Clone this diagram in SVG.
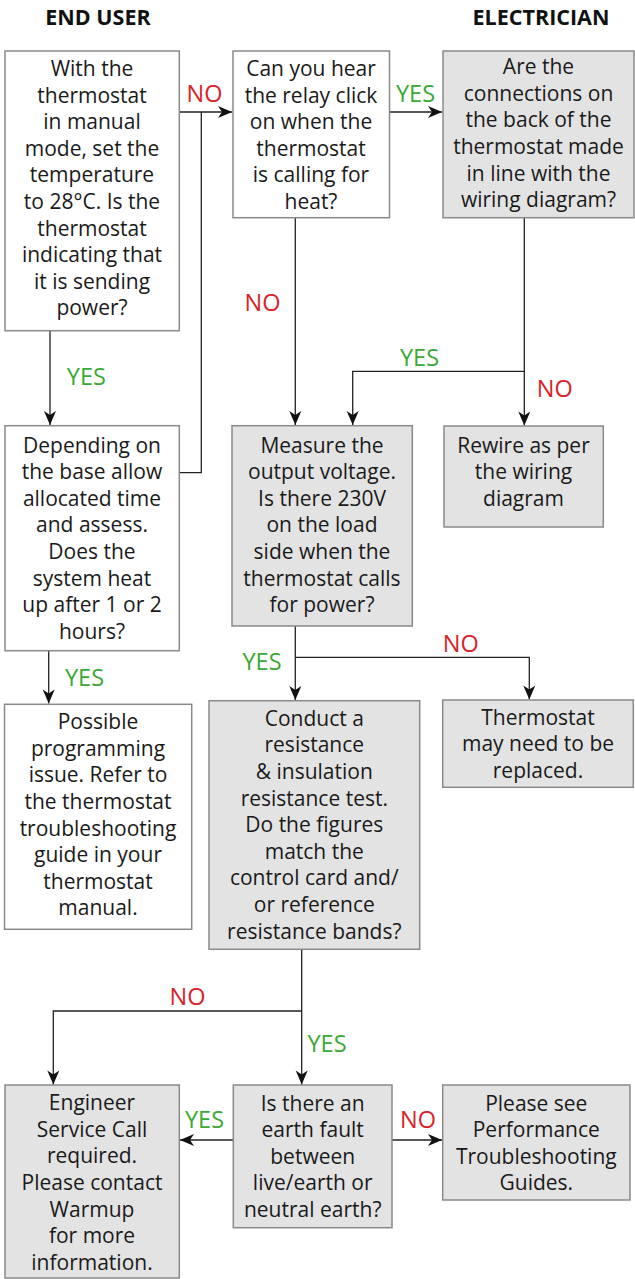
<svg xmlns="http://www.w3.org/2000/svg" width="635" height="1279" viewBox="0 0 635 1279">
<style>
.box{stroke:#8a8a8a;stroke-width:1.5}
.w{fill:#ffffff}
.g{fill:#e3e3e3}
.t{font-family:"Open Sans","Noto Sans","Liberation Sans",sans-serif;font-size:21px;fill:#1a1a1a;text-anchor:middle}
.h{font-family:"Open Sans","Noto Sans","Liberation Sans",sans-serif;font-size:21.5px;font-weight:bold;fill:#111;text-anchor:middle}
.no{font-family:"Open Sans","Noto Sans","Liberation Sans",sans-serif;font-size:23.5px;fill:#d8232a;text-anchor:middle}
.yes{font-family:"Open Sans","Noto Sans","Liberation Sans",sans-serif;font-size:23.5px;fill:#3aa935;text-anchor:middle}
.c{fill:none;stroke:#222;stroke-width:1.3}
</style>
<defs>
<marker id="ah" viewBox="-15 -7 16 14" refX="0" refY="0" markerWidth="16" markerHeight="14" markerUnits="userSpaceOnUse" orient="auto">
<path d="M0,0 L-14,-6 L-10,0 L-14,6 Z" fill="#111"/>
</marker>
</defs>
<rect width="635" height="1279" fill="#ffffff"/>

<g id="headers">
<text class="h" x="98" y="25">END USER</text>
<text class="h" x="541" y="25">ELECTRICIAN</text>
</g>

<g id="connectors">
<path class="c" d="M179,112 H232" marker-end="url(#ah)"/>
<path class="c" d="M179,472.7 H201.3 V112"/>
<path class="c" d="M389.5,112 H442" marker-end="url(#ah)"/>
<path class="c" d="M295.3,217.7 V425" marker-end="url(#ah)"/>
<path class="c" d="M50,330.7 V425" marker-end="url(#ah)"/>
<path class="c" d="M524.3,217.7 V425.5" marker-end="url(#ah)"/>
<path class="c" d="M524.3,371.3 H352.7 V425" marker-end="url(#ah)"/>
<path class="c" d="M295.3,626 V700" marker-end="url(#ah)"/>
<path class="c" d="M295.3,657.3 H529.3 V699.5" marker-end="url(#ah)"/>
<path class="c" d="M48.7,650.7 V703.5" marker-end="url(#ah)"/>
<path class="c" d="M301.7,949.3 V1084.5" marker-end="url(#ah)"/>
<path class="c" d="M301.7,1011 H53.3 V1084.5" marker-end="url(#ah)"/>
<path class="c" d="M233.3,1140 H180" marker-end="url(#ah)"/>
<path class="c" d="M392,1140 H442" marker-end="url(#ah)"/>
</g>

<g id="labels">
<text class="no" x="204.5" y="101.5">NO</text>
<text class="yes" x="415.5" y="101.5">YES</text>
<text class="no" x="262.5" y="311">NO</text>
<text class="yes" x="86.3" y="384.5">YES</text>
<text class="yes" x="419.5" y="365.5">YES</text>
<text class="no" x="554.7" y="396.5">NO</text>
<text class="no" x="460.7" y="651.5">NO</text>
<text class="yes" x="262" y="669.5">YES</text>
<text class="yes" x="84.5" y="685.5">YES</text>
<text class="no" x="187.5" y="1004.5">NO</text>
<text class="yes" x="327" y="1051.5">YES</text>
<text class="yes" x="204.5" y="1127.5">YES</text>
<text class="no" x="418" y="1127.5">NO</text>
</g>

<g id="n1">
<rect class="box w" x="5" y="51" width="174.3" height="279.7"/>
<text class="t" y="76"><tspan x="92">With the</tspan><tspan x="92" dy="26.6">thermostat</tspan><tspan x="92" dy="26.6">in manual</tspan><tspan x="92" dy="26.6">mode, set the</tspan><tspan x="92" dy="26.6">temperature</tspan><tspan x="92" dy="26.6">to 28°C. Is the</tspan><tspan x="92" dy="26.6">thermostat</tspan><tspan x="92" dy="26.6">indicating that</tspan><tspan x="92" dy="26.6">it is sending</tspan><tspan x="92" dy="26.6">power?</tspan></text>
</g>

<g id="n2">
<rect class="box w" x="233" y="51" width="156.5" height="166.7"/>
<text class="t" y="76"><tspan x="311">Can you hear</tspan><tspan x="311" dy="26.6">the relay click</tspan><tspan x="311" dy="26.6">on when the</tspan><tspan x="311" dy="26.6">thermostat</tspan><tspan x="311" dy="26.6">is calling for</tspan><tspan x="311" dy="26.6">heat?</tspan></text>
</g>

<g id="n3">
<rect class="box g" x="443" y="51" width="191" height="166.7"/>
<text class="t" y="74.2"><tspan x="538.5">Are the</tspan><tspan x="538.5" dy="26.6">connections on</tspan><tspan x="538.5" dy="26.6">the back of the</tspan><tspan x="538.5" dy="26.6">thermostat made</tspan><tspan x="538.5" dy="26.6">in line with the</tspan><tspan x="538.5" dy="26.6">wiring diagram?</tspan></text>
</g>

<g id="n4">
<rect class="box w" x="5" y="425.7" width="174.3" height="225"/>
<text class="t" y="452.5"><tspan x="92">Depending on</tspan><tspan x="92" dy="26.6">the base allow</tspan><tspan x="92" dy="26.6">allocated time</tspan><tspan x="92" dy="26.6">and assess.</tspan><tspan x="92" dy="26.6">Does the</tspan><tspan x="92" dy="26.6">system heat</tspan><tspan x="92" dy="26.6">up after 1 or 2</tspan><tspan x="92" dy="26.6">hours?</tspan></text>
</g>

<g id="n5">
<rect class="box g" x="232" y="425.7" width="180.3" height="200.3"/>
<text class="t" y="452.5"><tspan x="322">Measure the</tspan><tspan x="322" dy="26.6">output voltage.</tspan><tspan x="322" dy="26.6">Is there 230V</tspan><tspan x="322" dy="26.6">on the load</tspan><tspan x="322" dy="26.6">side when the</tspan><tspan x="322" dy="26.6">thermostat calls</tspan><tspan x="322" dy="26.6">for power?</tspan></text>
</g>

<g id="n6">
<rect class="box g" x="444" y="426" width="159.3" height="101"/>
<text class="t" y="452.5"><tspan x="523.5">Rewire as per</tspan><tspan x="523.5" dy="26.6">the wiring</tspan><tspan x="523.5" dy="26.6">diagram</tspan></text>
</g>

<g id="n7">
<rect class="box w" x="4.5" y="704.3" width="187.2" height="225"/>
<text class="t" y="729.2"><tspan x="98">Possible</tspan><tspan x="98" dy="26.6">programming</tspan><tspan x="98" dy="26.6">issue. Refer to</tspan><tspan x="98" dy="26.6">the thermostat</tspan><tspan x="98" dy="26.6">troubleshooting</tspan><tspan x="98" dy="26.6">guide in your</tspan><tspan x="98" dy="26.6">thermostat</tspan><tspan x="98" dy="26.6">manual.</tspan></text>
</g>

<g id="n8">
<rect class="box g" x="209" y="700.7" width="210.7" height="248.6"/>
<text class="t" y="725.8"><tspan x="314.3">Conduct a</tspan><tspan x="314.3" dy="26.6">resistance</tspan><tspan x="314.3" dy="26.6">&amp; insulation</tspan><tspan x="314.3" dy="26.6">resistance test.</tspan><tspan x="314.3" dy="26.6">Do the figures</tspan><tspan x="314.3" dy="26.6">match the</tspan><tspan x="314.3" dy="26.6">control card and/</tspan><tspan x="314.3" dy="26.6">or reference</tspan><tspan x="314.3" dy="26.6">resistance bands?</tspan></text>
</g>

<g id="n9">
<rect class="box g" x="442.7" y="700" width="190.6" height="87.3"/>
<text class="t" y="724.8"><tspan x="538">Thermostat</tspan><tspan x="538" dy="26.6">may need to be</tspan><tspan x="538" dy="26.6">replaced.</tspan></text>
</g>

<g id="n10">
<rect class="box g" x="5" y="1085" width="174.3" height="193"/>
<text class="t" y="1110.2"><tspan x="92">Engineer</tspan><tspan x="92" dy="26.6">Service Call</tspan><tspan x="92" dy="26.6">required.</tspan><tspan x="92" dy="26.6">Please contact</tspan><tspan x="92" dy="26.6">Warmup</tspan><tspan x="92" dy="26.6">for more</tspan><tspan x="92" dy="26.6">information.</tspan></text>
</g>

<g id="n11">
<rect class="box g" x="233.3" y="1085" width="158.7" height="142.7"/>
<text class="t" y="1110.5"><tspan x="312.7">Is there an</tspan><tspan x="312.7" dy="26.6">earth fault</tspan><tspan x="312.7" dy="26.6">between</tspan><tspan x="312.7" dy="26.6">live/earth or</tspan><tspan x="312.7" dy="26.6">neutral earth?</tspan></text>
</g>

<g id="n12">
<rect class="box g" x="442.7" y="1085" width="187.3" height="115"/>
<text class="t" y="1110.5"><tspan x="536.3">Please see</tspan><tspan x="536.3" dy="26.6">Performance</tspan><tspan x="536.3" dy="26.6">Troubleshooting</tspan><tspan x="536.3" dy="26.6">Guides.</tspan></text>
</g>
</svg>
